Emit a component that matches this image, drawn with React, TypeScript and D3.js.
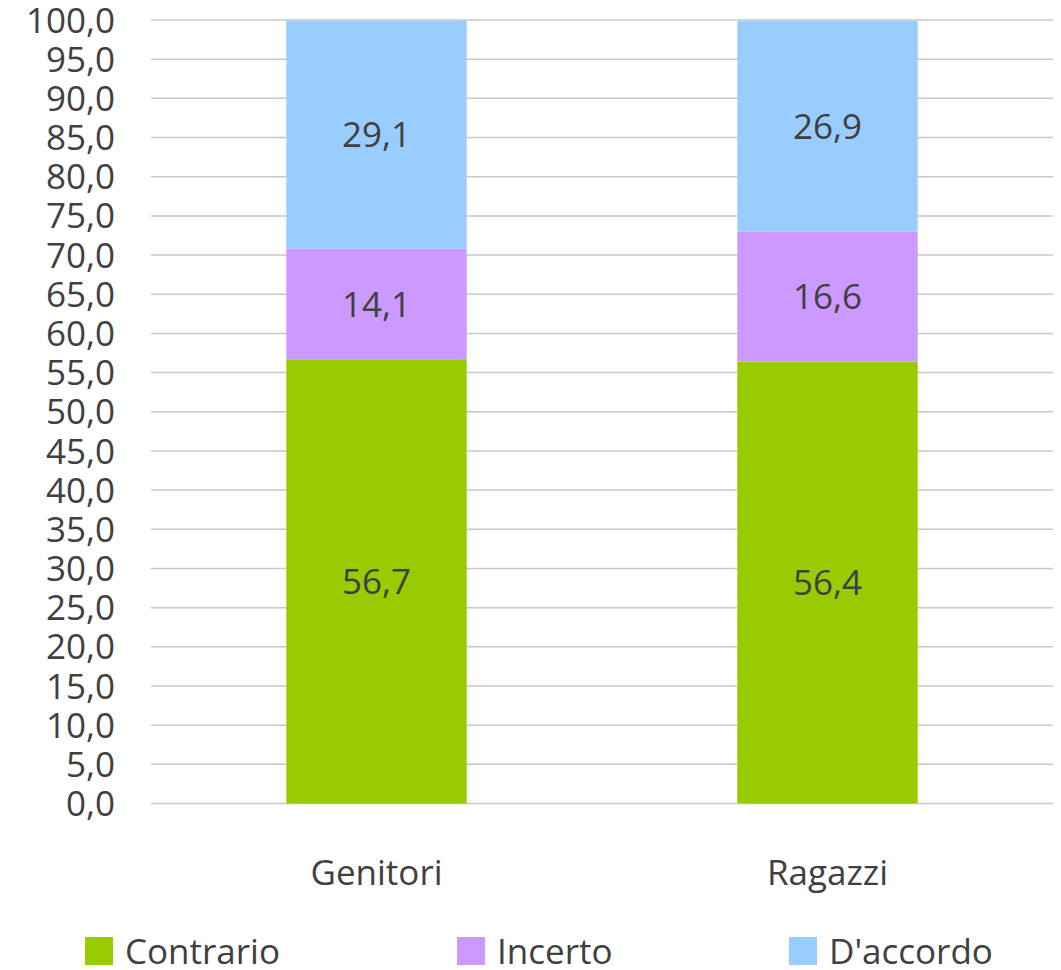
import React from "react";
import * as d3 from "d3";

const categories = ["Genitori", "Ragazzi"];
const seriesNames = ["Contrario", "Incerto", "D'accordo"];
const contrario = [56.7, 56.4];
const incerto = [14.1, 16.6];
const daccordo = [29.1, 26.9];
const yTicks = d3.range(0, 101, 5);
const colors = ["#99CC00", "#CC99FF", "#99CCFF"];

const W = 1061;
const H = 970;
const FONT = "'Open Sans', sans-serif";
const TEXT = "#404040";
const FS = 35;

export default function App() {
  const x = d3.scaleBand().domain(categories).range([151, 1053]).paddingInner(0.6).paddingOuter(0.3);
  const y = d3.scaleLinear().domain([0, 100]).range([803.5, 20]);
  const rows = categories.map((c, i) => ({ cat: c, Contrario: contrario[i], Incerto: incerto[i], "D'accordo": daccordo[i] }));
  const stacked = d3.stack<any>().keys(seriesNames)(rows);
  const fmt = (v: number) => v.toFixed(1).replace(".", ",");
  const legendX = [85, 457, 789];

  return (
    <svg width={W} height={H} style={{ position: "absolute", left: 0, top: 0, background: "#fff" }} fontFamily={FONT}>
      {yTicks.map((t) => (
        <g key={t}>
          <line x1={151} x2={1053} y1={y(t)} y2={y(t)} stroke="#C8C8C8" strokeWidth={1.5} />
          <text x={115} y={y(t)} dy="0.36em" textAnchor="end" fontSize={FS} fill={TEXT}>
            {fmt(t)}
          </text>
        </g>
      ))}
      {stacked.map((s, si) => (
        <g key={s.key}>
          {s.map((d, i) => (
            <g key={i}>
              <rect x={x(categories[i])} width={x.bandwidth()} y={y(d[1])} height={y(d[0]) - y(d[1])} fill={colors[si]} />
              <text x={(x(categories[i]) as number) + x.bandwidth() / 2} y={(y(d[0]) + y(d[1])) / 2} dy="0.36em" textAnchor="middle" fontSize={FS} fill={TEXT}>
                {fmt(d[1] - d[0])}
              </text>
            </g>
          ))}
        </g>
      ))}
      {categories.map((c) => (
        <text key={c} x={(x(c) as number) + x.bandwidth() / 2} y={885} textAnchor="middle" fontSize={FS} fill={TEXT}>
          {c}
        </text>
      ))}
      {seriesNames.map((n, i) => (
        <g key={n}>
          <rect x={legendX[i]} y={937} width={28} height={28} fill={colors[i]} />
          <text x={legendX[i] + 40} y={964} fontSize={FS} fill={TEXT}>
            {n}
          </text>
        </g>
      ))}
    </svg>
  );
}
